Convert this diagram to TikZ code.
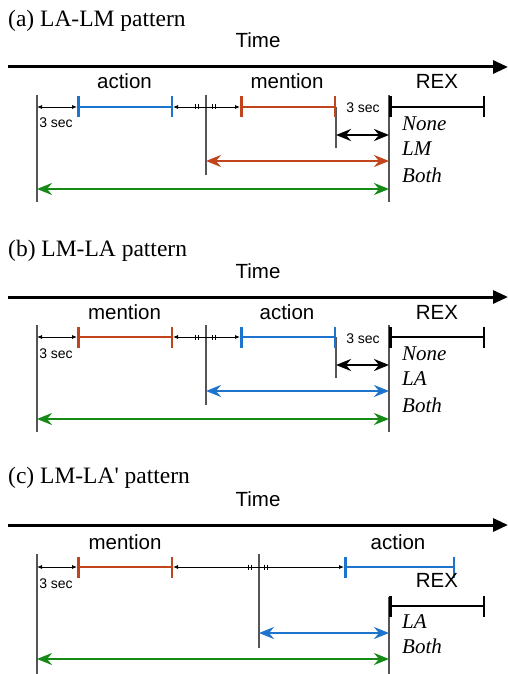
\documentclass[tikz,border=0pt]{standalone}
\usepackage{fontspec}
\setmainfont{Liberation Serif}[Ligatures=TeXOff]
\setsansfont{Liberation Sans}
\usetikzlibrary{arrows.meta}

\definecolor{actblue}{RGB}{30,115,205}
\definecolor{menred}{RGB}{192,68,28}
\definecolor{bothgreen}{RGB}{22,138,22}
\definecolor{guidegray}{RGB}{85,85,85}

\tikzset{
  paneltitle/.style={font=\fontsize{23.5}{27}\selectfont, inner sep=0pt, anchor=base west},
  biglbl/.style={font=\sffamily\fontsize{20.5}{24}\selectfont, inner sep=0pt, anchor=base},
  seclbl/.style={font=\sffamily\fontsize{14}{16}\selectfont, inner sep=0pt, anchor=base},
  condlbl/.style={font=\itshape\fontsize{21}{24}\selectfont, inner sep=0pt, anchor=base west},
  timeaxis/.style={line width=3pt, -{Triangle[length=15pt,width=13pt]}},
  guideline/.style={draw=guidegray, line width=1.3pt},
  seg/.style={line width=2.5pt, {Bar[width=21pt]}-{Bar[width=21pt]}},
  gaparrow/.style={line width=0.8pt, {Latex[length=5pt,width=4pt]}-{Latex[length=5pt,width=4pt]}},
  spanarrow/.style={line width=2.2pt, {Stealth[length=15pt,width=12pt,inset=5pt]}-{Stealth[length=15pt,width=12pt,inset=5pt]}},
  brkmark/.style={line width=0.8pt},
}

\begin{document}
\begin{tikzpicture}[x=1pt,y=-1pt]
\useasboundingbox (0,0) rectangle (508,674);

% ---------------- (a) LA-LM ----------------
\node[paneltitle] (a-title) at (8,26.5) {(a) LA-LM pattern};
\node[biglbl] (a-time) at (258,48) {Time};
\coordinate (a-ax0) at (8,67);
\coordinate (a-ax1) at (508,67);
\draw[timeaxis] (a-ax0) -- (a-ax1);

\node[biglbl] (a-lbl1) at (124.5,89) {action};
\node[biglbl] (a-lbl2) at (287,89) {mention};
\node[biglbl] (a-rex) at (437,89) {REX};

\coordinate (a-g1t) at (37,95);   \coordinate (a-g1b) at (37,202);
\coordinate (a-g2t) at (206,95);  \coordinate (a-g2b) at (206,175);
\coordinate (a-g3t) at (336,107); \coordinate (a-g3b) at (336,148);
\coordinate (a-g4t) at (389,95);  \coordinate (a-g4b) at (389,202);
\draw[guideline] (a-g1t) -- (a-g1b);
\draw[guideline] (a-g2t) -- (a-g2b);
\draw[guideline] (a-g3t) -- (a-g3b);
\draw[guideline] (a-g4t) -- (a-g4b);

\coordinate (a-s0) at (37,107);
\coordinate (a-s1) at (77,107);
\coordinate (a-s2) at (173,107);
\coordinate (a-s3) at (240,107);
\coordinate (a-s4) at (336,107);
\coordinate (a-r0) at (389,107);
\coordinate (a-r1) at (485,107);
\draw[gaparrow] (a-s0) -- (a-s1);
\draw[seg, actblue] (a-s1) -- (a-s2);
\draw[gaparrow] (a-s2) -- (a-s3);
\draw[brkmark] (195.5,104.5) -- ++(0,5) (198.5,104.5) -- ++(0,5)
               (212.5,104.5) -- ++(0,5) (215.5,104.5) -- ++(0,5);
\draw[seg, menred] (a-s3) -- (a-s4);
\draw[seg, black] (a-r0) -- (a-r1);

\node[seclbl] (a-sec1) at (56,128) {3 sec};
\node[seclbl] (a-sec2) at (363,113) {3 sec};

\coordinate (a-k0) at (336,135); \coordinate (a-k1) at (389,135);
\draw[spanarrow, line width=2.6pt, black] (a-k0) -- (a-k1);
\coordinate (a-m0) at (206,161); \coordinate (a-m1) at (389,161);
\draw[spanarrow, menred] (a-m0) -- (a-m1);
\coordinate (a-b0) at (37,189);  \coordinate (a-b1) at (389,189);
\draw[spanarrow, bothgreen] (a-b0) -- (a-b1);

\node[condlbl] (a-none) at (402,130) {None};
\node[condlbl] (a-one) at (402,155) {LM};
\node[condlbl] (a-both) at (402,182) {Both};

% ---------------- (b) LM-LA ----------------
\begin{scope}[shift={(0,230)}]
\node[paneltitle] (b-title) at (8,26.5) {(b) LM-LA pattern};
\node[biglbl] (b-time) at (258,48) {Time};
\coordinate (b-ax0) at (8,67);
\coordinate (b-ax1) at (508,67);
\draw[timeaxis] (b-ax0) -- (b-ax1);

\node[biglbl] (b-lbl1) at (124.5,89) {mention};
\node[biglbl] (b-lbl2) at (287,89) {action};
\node[biglbl] (b-rex) at (437,89) {REX};

\coordinate (b-g1t) at (37,95);   \coordinate (b-g1b) at (37,202);
\coordinate (b-g2t) at (206,95);  \coordinate (b-g2b) at (206,175);
\coordinate (b-g3t) at (336,107); \coordinate (b-g3b) at (336,148);
\coordinate (b-g4t) at (389,95);  \coordinate (b-g4b) at (389,202);
\draw[guideline] (b-g1t) -- (b-g1b);
\draw[guideline] (b-g2t) -- (b-g2b);
\draw[guideline] (b-g3t) -- (b-g3b);
\draw[guideline] (b-g4t) -- (b-g4b);

\coordinate (b-s0) at (37,107);
\coordinate (b-s1) at (77,107);
\coordinate (b-s2) at (173,107);
\coordinate (b-s3) at (240,107);
\coordinate (b-s4) at (336,107);
\coordinate (b-r0) at (389,107);
\coordinate (b-r1) at (485,107);
\draw[gaparrow] (b-s0) -- (b-s1);
\draw[seg, menred] (b-s1) -- (b-s2);
\draw[gaparrow] (b-s2) -- (b-s3);
\draw[brkmark] (195.5,104.5) -- ++(0,5) (198.5,104.5) -- ++(0,5)
               (212.5,104.5) -- ++(0,5) (215.5,104.5) -- ++(0,5);
\draw[seg, actblue] (b-s3) -- (b-s4);
\draw[seg, black] (b-r0) -- (b-r1);

\node[seclbl] (b-sec1) at (56,128) {3 sec};
\node[seclbl] (b-sec2) at (363,113) {3 sec};

\coordinate (b-k0) at (336,135); \coordinate (b-k1) at (389,135);
\draw[spanarrow, line width=2.6pt, black] (b-k0) -- (b-k1);
\coordinate (b-m0) at (206,161); \coordinate (b-m1) at (389,161);
\draw[spanarrow, actblue] (b-m0) -- (b-m1);
\coordinate (b-b0) at (37,189);  \coordinate (b-b1) at (389,189);
\draw[spanarrow, bothgreen] (b-b0) -- (b-b1);

\node[condlbl] (b-none) at (402,130) {None};
\node[condlbl] (b-one) at (402,155) {LA};
\node[condlbl] (b-both) at (402,182) {Both};
\end{scope}

% ---------------- (c) LM-LA' ----------------
\node[paneltitle] (c-title) at (8,483) {(c) LM-LA' pattern};
\node[biglbl] (c-time) at (258,506) {Time};
\coordinate (c-ax0) at (8,525);
\coordinate (c-ax1) at (508,525);
\draw[timeaxis] (c-ax0) -- (c-ax1);

\node[biglbl] (c-lbl1) at (125,549) {mention};
\node[biglbl] (c-lbl2) at (398,549) {action};

\coordinate (c-g1t) at (37,554);  \coordinate (c-g1b) at (37,674);
\coordinate (c-g2t) at (259,554); \coordinate (c-g2b) at (259,648);
\coordinate (c-g4t) at (389,597); \coordinate (c-g4b) at (389,674);
\draw[guideline] (c-g1t) -- (c-g1b);
\draw[guideline] (c-g2t) -- (c-g2b);
\draw[guideline] (c-g4t) -- (c-g4b);

\coordinate (c-s0) at (37,567);
\coordinate (c-s1) at (77,567);
\coordinate (c-s2) at (173,567);
\coordinate (c-s3) at (344,567);
\coordinate (c-s4) at (455,567);
\draw[gaparrow] (c-s0) -- (c-s1);
\draw[seg, menred] (c-s1) -- (c-s2);
\draw[gaparrow] (c-s2) -- (c-s3);
\draw[brkmark] (248.5,564.5) -- ++(0,5) (251.5,564.5) -- ++(0,5)
               (264.5,564.5) -- ++(0,5) (267.5,564.5) -- ++(0,5);
\draw[seg, actblue] (c-s3) -- (c-s4);

\node[seclbl] (c-sec1) at (56,588) {3 sec};

\node[biglbl] (c-rex) at (437,587) {REX};
\coordinate (c-r0) at (389,606);
\coordinate (c-r1) at (485,606);
\draw[seg, black] (c-r0) -- (c-r1);

\coordinate (c-m0) at (259,633); \coordinate (c-m1) at (389,633);
\draw[spanarrow, actblue] (c-m0) -- (c-m1);
\coordinate (c-b0) at (37,659);  \coordinate (c-b1) at (389,659);
\draw[spanarrow, bothgreen] (c-b0) -- (c-b1);

\node[condlbl] (c-one) at (402,628) {LA};
\node[condlbl] (c-both) at (402,653) {Both};
\end{tikzpicture}
\end{document}
